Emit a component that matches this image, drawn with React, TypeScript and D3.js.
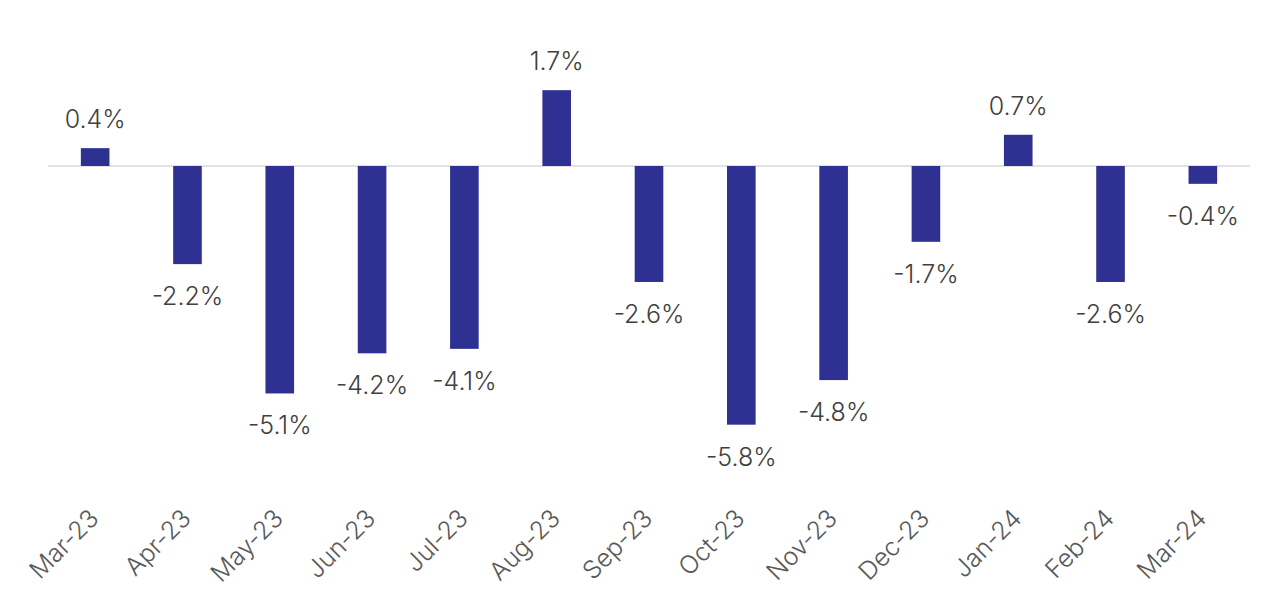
import * as d3 from "d3";
import { useEffect, useRef } from "react";

const months = [
  "Mar-23", "Apr-23", "May-23", "Jun-23", "Jul-23", "Aug-23", "Sep-23",
  "Oct-23", "Nov-23", "Dec-23", "Jan-24", "Feb-24", "Mar-24",
];
const changes = [0.4, -2.2, -5.1, -4.2, -4.1, 1.7, -2.6, -5.8, -4.8, -1.7, 0.7, -2.6, -0.4];

const App: React.FC = () => {
  const ref = useRef<SVGSVGElement | null>(null);

  useEffect(() => {
    document.body.style.margin = "0";
    const width = 1280;
    const height = 610;
    const svg = d3.select(ref.current);
    svg.selectAll("*").remove();
    svg.attr("width", width).attr("height", height);

    const x = d3.scaleBand<string>().domain(months).range([49, 1249]).paddingInner(0.69).paddingOuter(0.345);
    // ~44.6px per percentage point, zero line at y=166
    const y = d3.scaleLinear().domain([2, -6]).range([76.8, 433.6]);

    const font = "Inter, 'Open Sans', sans-serif";
    const data = months.map((m, i) => ({ m, v: changes[i] }));

    svg
      .append("line")
      .attr("x1", 48)
      .attr("x2", 1250)
      .attr("y1", y(0))
      .attr("y2", y(0))
      .attr("stroke", "#d9d9d9")
      .attr("stroke-width", 1.5);

    svg
      .selectAll("rect.bar")
      .data(data)
      .enter()
      .append("rect")
      .attr("class", "bar")
      .attr("x", (d) => x(d.m)!)
      .attr("width", x.bandwidth())
      .attr("y", (d) => Math.min(y(d.v), y(0)))
      .attr("height", (d) => Math.abs(y(d.v) - y(0)))
      .attr("fill", "#2e3192");

    svg
      .selectAll("text.val")
      .data(data)
      .enter()
      .append("text")
      .attr("class", "val")
      .attr("x", (d) => x(d.m)! + x.bandwidth() / 2)
      .attr("y", (d) => (d.v >= 0 ? y(d.v) - 20 : y(d.v) + 41))
      .attr("text-anchor", "middle")
      .attr("font-family", font)
      .attr("font-weight", 300)
      .attr("font-size", 25)
      .attr("fill", "#404040")
      .text((d) => `${d.v.toFixed(1)}%`);

    svg
      .selectAll("text.month")
      .data(months)
      .enter()
      .append("text")
      .attr("class", "month")
      .attr("transform", (m) => `translate(${x(m)! + x.bandwidth() / 2 + 5},520) rotate(-45)`)
      .attr("text-anchor", "end")
      .attr("font-family", font)
      .attr("font-weight", 300)
      .attr("font-size", 25)
      .attr("fill", "#595959")
      .text((m) => m);
  }, []);

  return <svg ref={ref} style={{ display: "block" }}></svg>;
};

export default App;
